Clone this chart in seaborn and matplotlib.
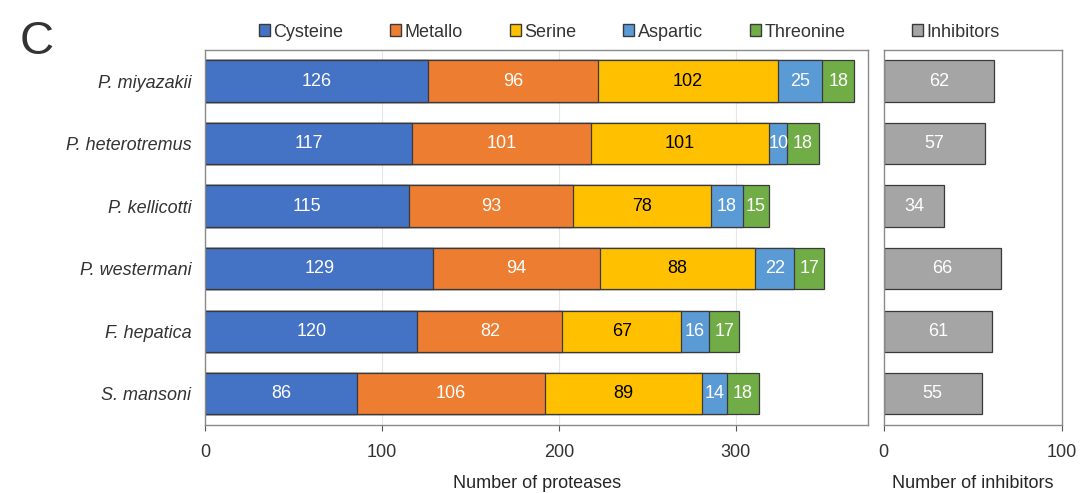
import pandas as pd
import numpy as np
import matplotlib.pyplot as plt
import seaborn as sns
from matplotlib.patches import Patch

species = ["P. miyazakii", "P. heterotremus", "P. kellicotti",
           "P. westermani", "F. hepatica", "S. mansoni"]
classes = ["Cysteine", "Metallo", "Serine", "Aspartic", "Threonine"]
cysteine = [126, 117, 115, 129, 120, 86]
metallo = [96, 101, 93, 94, 82, 106]
serine = [102, 101, 78, 88, 67, 89]
aspartic = [25, 10, 18, 22, 16, 14]
threonine = [18, 18, 15, 17, 17, 18]
inhibitors = [62, 57, 34, 66, 61, 55]

colors = ["#4472C4", "#ED7D31", "#FFC000", "#5B9BD5", "#70AD47"]
text_colors = ["white", "white", "black", "white", "white"]
gray = "#A5A5A5"
fs = 13

sns.set_style("white")
plt.rcParams["font.family"] = ["Liberation Sans", "DejaVu Sans"]
plt.rcParams["text.color"] = "#333333"
plt.rcParams["xtick.color"] = "#555555"
plt.rcParams["xtick.labelcolor"] = "#333333"
plt.rcParams["ytick.labelcolor"] = "#333333"

df = pd.DataFrame({"species": species, "Cysteine": cysteine, "Metallo": metallo,
                   "Serine": serine, "Aspartic": aspartic, "Threonine": threonine})
cum = df[classes].cumsum(axis=1)

fig = plt.figure(figsize=(10.91, 4.93), dpi=100)
ax = fig.add_axes([0.188, 0.138, 0.608, 0.761])
ax2 = fig.add_axes([0.810, 0.138, 0.163, 0.761])

# stacked bars: draw cumulative totals from the largest down
for i in range(len(classes) - 1, -1, -1):
    sns.barplot(x=cum[classes[i]], y=df["species"], orient="h", ax=ax,
                color=colors[i], width=0.66, edgecolor="#3a3a3a", linewidth=0.9,
                saturation=1)

for j in range(len(species)):
    start = 0
    for i, c in enumerate(classes):
        v = df.loc[j, c]
        ax.text(start + v / 2, j, str(v), ha="center", va="center",
                color=text_colors[i], fontsize=fs)
        start += v

ax.set_xlim(0, 375)
ax.set_xticks([0, 100, 200, 300])
ax.set_xlabel("Number of proteases", fontsize=fs, labelpad=10)
ax.set_ylabel("")
ax.tick_params(axis="y", labelsize=fs, length=0, pad=10)
for lab in ax.get_yticklabels():
    lab.set_fontstyle("italic")
ax.tick_params(axis="x", labelsize=fs, direction="out", length=4, bottom=True, pad=10)
ax.grid(axis="x", color="#e6e6e6", linewidth=0.8)
ax.set_axisbelow(True)

sns.barplot(x=inhibitors, y=species, orient="h", ax=ax2, color=gray, width=0.66,
            edgecolor="#3a3a3a", linewidth=0.9, saturation=1)
for j, v in enumerate(inhibitors):
    ax2.text(v / 2, j, str(v), ha="center", va="center", color="white", fontsize=fs)
ax2.set_xlim(0, 100)
ax2.set_xticks([0, 100])
ax2.set_yticks([])
ax2.set_ylabel("")
ax2.set_xlabel("Number of inhibitors", fontsize=fs, labelpad=10)
ax2.tick_params(axis="x", labelsize=fs, direction="out", length=4, bottom=True, pad=10)

for a in (ax, ax2):
    for s in a.spines.values():
        s.set_color("#8a8a8a")
        s.set_linewidth(1.0)

handles = [Patch(facecolor=colors[i], edgecolor="#3a3a3a", label=classes[i])
           for i in range(len(classes))]
fig.legend(handles=handles, loc="center", bbox_to_anchor=(0.506, 0.935), ncol=5,
           frameon=False, fontsize=fs, handlelength=0.6, handleheight=0.6,
           handletextpad=0.2, columnspacing=2.6)
fig.legend(handles=[Patch(facecolor=gray, edgecolor="#3a3a3a", label="Inhibitors")],
           loc="center", bbox_to_anchor=(0.876, 0.935), frameon=False, fontsize=fs,
           handlelength=0.6, handleheight=0.6, handletextpad=0.2)

fig.text(0.018, 0.89, "C", fontsize=34, color="#333333")

fig.savefig("out.png", dpi=100)
